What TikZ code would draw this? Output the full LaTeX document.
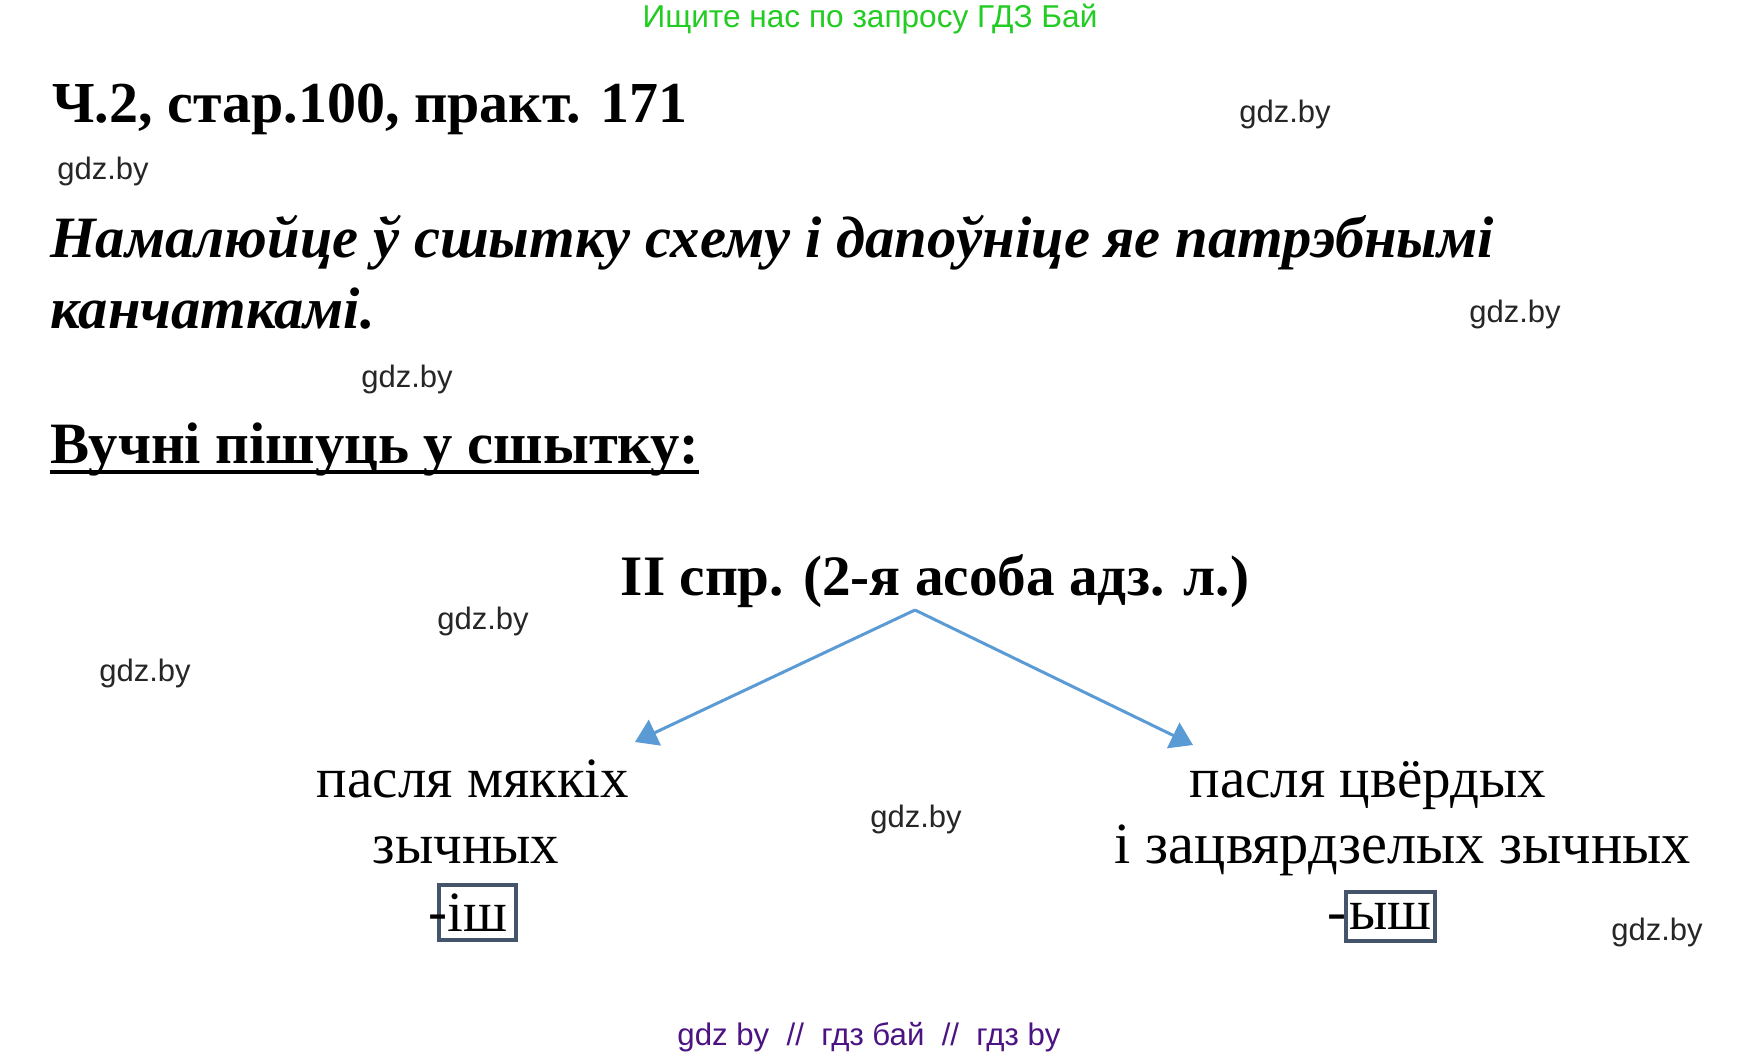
\documentclass[tikz,border=0pt]{standalone}
\usepackage{fontspec}
\setmainfont{Liberation Serif}
\newfontfamily\wmfont{Liberation Sans}
\usetikzlibrary{arrows.meta,calc}
\definecolor{arrowblue}{HTML}{5B9BD5}
\definecolor{boxgray}{HTML}{44546A}
\definecolor{adgreen}{RGB}{34,204,34}
\definecolor{adpurple}{RGB}{75,20,130}

\begin{document}
\begin{tikzpicture}[x=0.5pt,y=-0.5pt,
    wmark/.style={font=\wmfont\fontsize{15.5}{18}\selectfont, text=black!85},
    body/.style={font=\fontsize{28.5}{34}\selectfont, inner sep=0pt, anchor=base},
    endbox/.style={draw=boxgray, line width=2pt, inner sep=0pt, font=\fontsize{28.5}{34}\selectfont},
    arr/.style={draw=arrowblue, line width=1.5pt, -{Triangle[length=11pt,width=14pt]}}]
    % Page
    \fill[white] (0,0) rectangle (1741,1056);
    \useasboundingbox (0,0) rectangle (1741,1056);

    % Top and bottom lines
    \node[anchor=base, inner sep=0pt, text=adgreen, font=\wmfont\fontsize{15.8}{18}\selectfont] (search) at (870,27) {Ищите нас по запросу ГДЗ Бай};
    \node[anchor=base, inner sep=0pt, text=adpurple, font=\wmfont\fontsize{15.6}{18}\selectfont] (footer) at (869,1045) {gdz by \ // \ гдз бай \ // \ гдз by};

    % Heading and task
    \node[anchor=base west, inner sep=0pt, font=\bfseries\fontsize{29}{34}\selectfont] (heading) at (52,122) {Ч.2, стар.100, практ. 171};
    \node[anchor=base west, inner sep=0pt, font=\bfseries\itshape\fontsize{29.3}{34}\selectfont] (task1) at (50,257) {Намалюйце ў сшытку схему і дапоўніце яе патрэбнымі};
    \node[anchor=base west, inner sep=0pt, font=\bfseries\itshape\fontsize{29.3}{34}\selectfont] (task2) at (50,328) {канчаткамі.};
    \node[anchor=base west, inner sep=0pt, font=\bfseries\fontsize{29.3}{36}\selectfont] (written) at (50,463) {Вучні пішуць у сшытку:};
    \draw[line width=2pt] ($(written.base west)+(0,9)$) -- ($(written.base east)+(0,9)$);

    % Scheme
    \node[body, font=\bfseries\fontsize{28.6}{34}\selectfont] (conj) at (935,595) {II спр. (2-я асоба адз. л.)};
    \coordinate (apex) at (915,610);
    \coordinate (tipl) at (635,742);
    \coordinate (tipr) at (1193,745);
    \draw[arr] (apex) -- (tipl);
    \draw[arr] (apex) -- (tipr);

    \node[body] (soft1) at (473,797) {пасля мяккіх};
    \node[body] (soft2) at (466,863) {зычных};
    \node[body] (hard1) at (1368,797) {пасля цвёрдых};
    \node[body, font=\fontsize{29.2}{34}\selectfont] (hard2) at (1403,863) {і зацвярдзелых зычных};

    % Endings
    \node[endbox, minimum width=38.5pt, minimum height=27.5pt] (endsoft) at (477.5,912.5) {іш};
    \node[body] (dashsoft) at (438,930) {-};
    \node[endbox, minimum width=44.5pt, minimum height=24.5pt] (endhard) at (1390.5,916.5) {ыш};
    \node[body] (dashhard) at (1337,930) {-};

    % Watermarks
    \node[wmark] (wm1) at (103,171) {gdz.by};
    \node[wmark] (wm2) at (1285,114) {gdz.by};
    \node[wmark] (wm3) at (407,379) {gdz.by};
    \node[wmark] (wm4) at (1515,314) {gdz.by};
    \node[wmark] (wm5) at (483,621) {gdz.by};
    \node[wmark] (wm6) at (145,673) {gdz.by};
    \node[wmark] (wm7) at (916,819) {gdz.by};
    \node[wmark] (wm8) at (1657,932) {gdz.by};
\end{tikzpicture}
\end{document}
